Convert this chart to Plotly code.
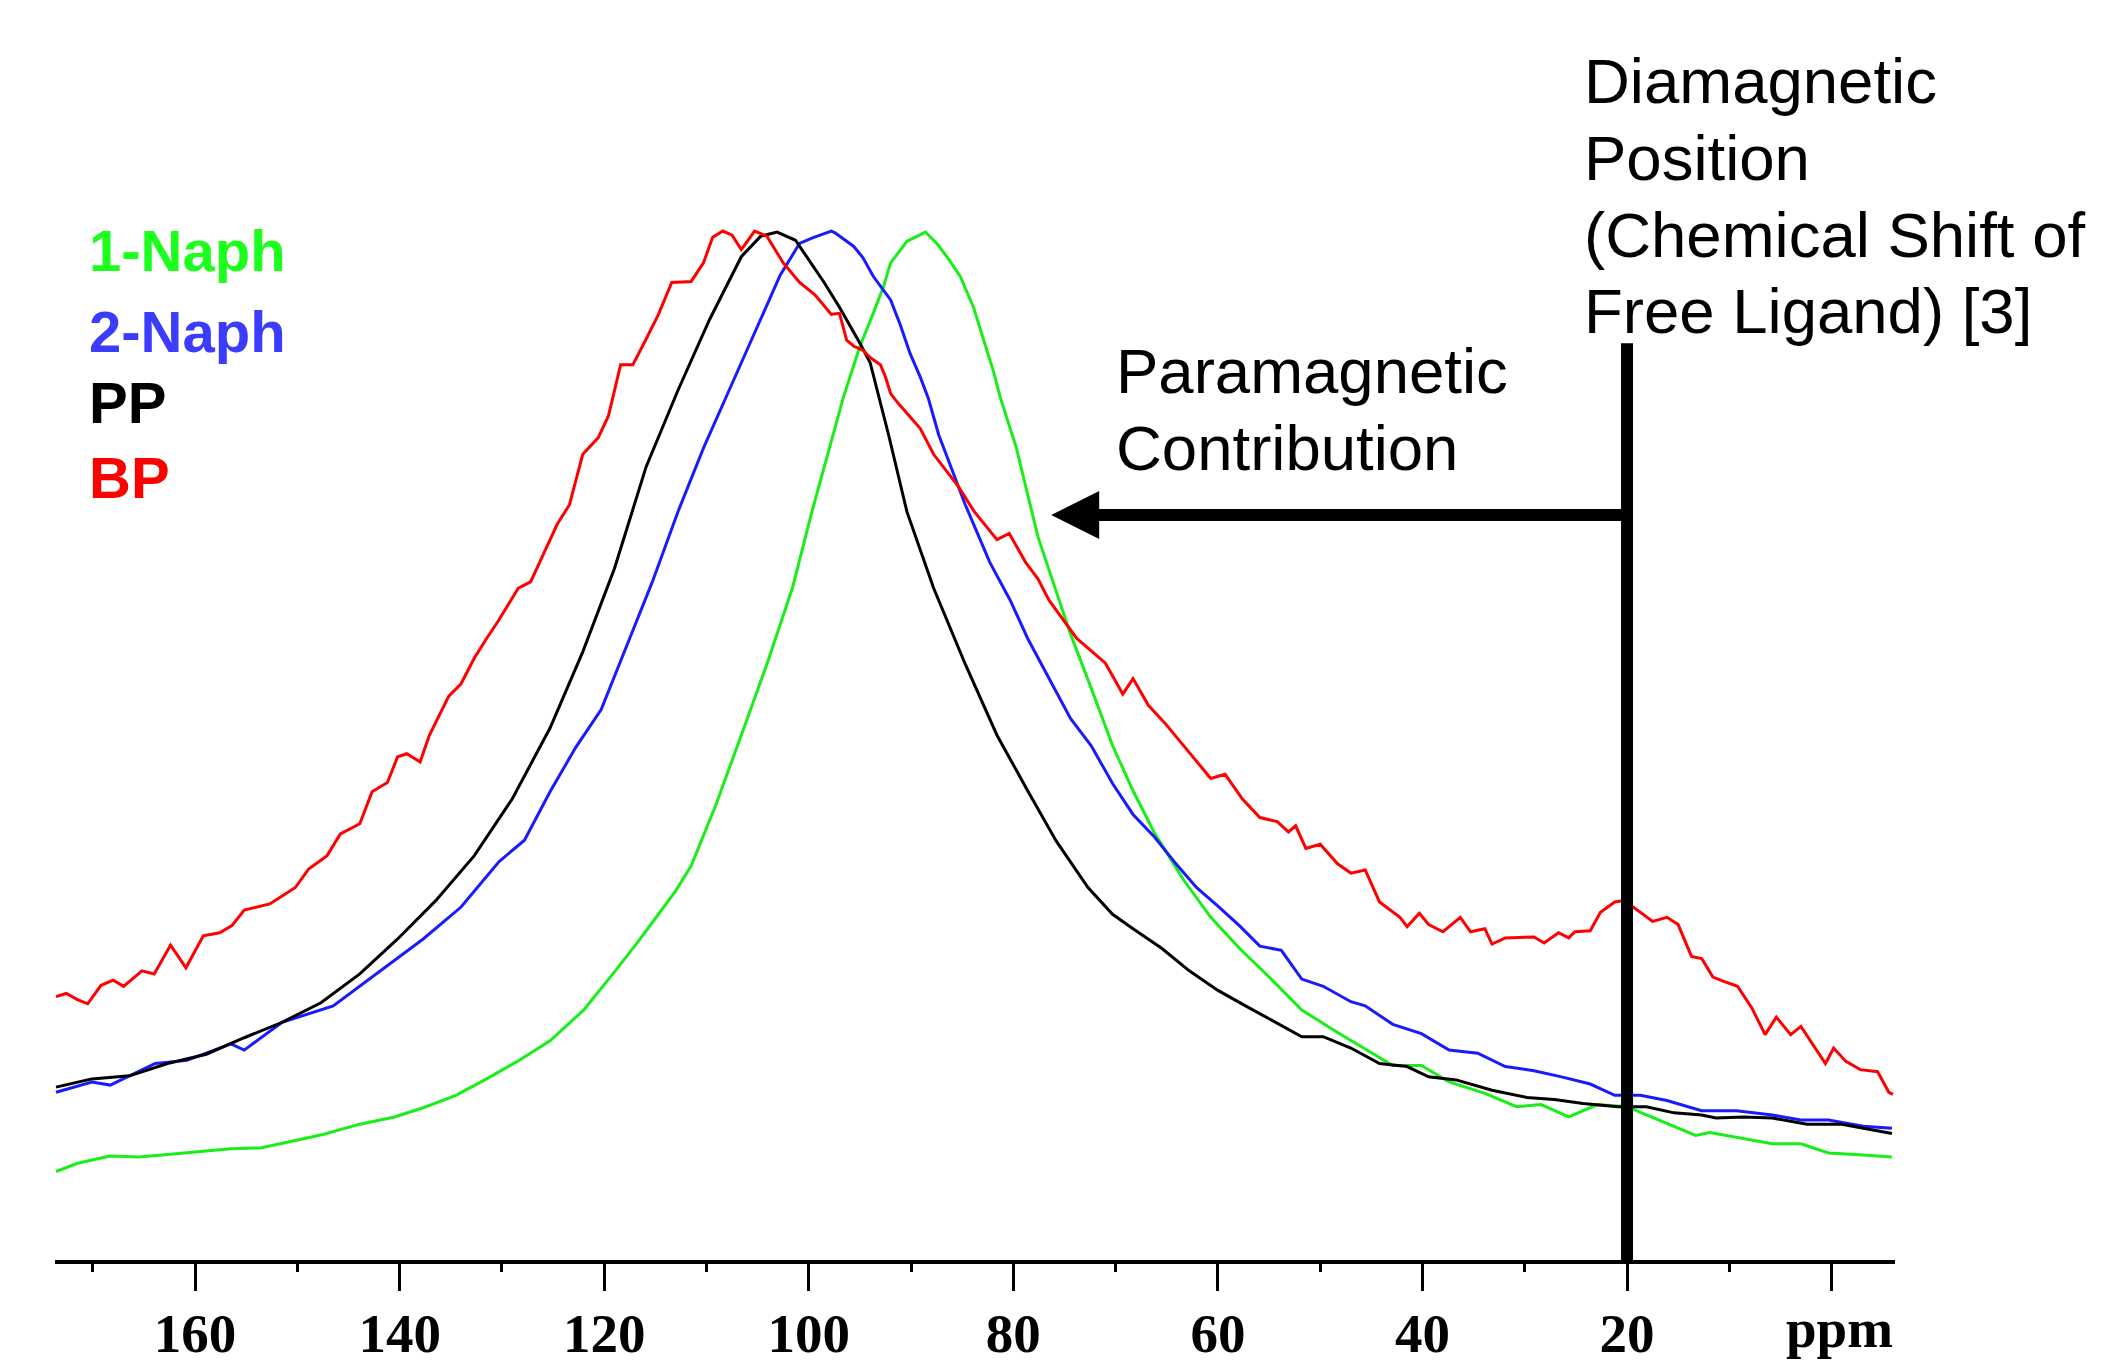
import plotly.graph_objects as go

# ---------------- data ----------------
naph1_ppm = [173.6, 171.5, 168.3, 165.5, 162.7, 159.5, 156.5, 153.5, 151.1, 147.5, 143.9, 140.5,
             137.7, 134.5, 131.5, 128.5, 125.3, 122.0, 119.0, 116.8, 114.7, 113.0, 111.5, 109.1,
             106.6, 104.1, 101.6, 99.7, 96.6, 95.0, 93.7, 92.7, 92.0, 90.4, 88.6, 87.5, 86.5, 85.2,
             83.9, 82.9, 81.9, 81.3, 79.7, 77.6, 75.5, 74.4, 72.4, 70.3, 68.3, 66.2, 63.4, 60.7,
             57.9, 55.2, 51.8, 48.3, 44.9, 42.9, 40.1, 37.4, 33.9, 30.8, 28.4, 25.7, 22.9, 20.0,
             18.1, 13.3, 11.9, 5.8, 3.0, 0.3, -3.1, -5.9]
naph1_int = [8.6, 9.4, 10.1, 10.0, 10.25, 10.5, 10.8, 10.9, 11.4, 12.2, 13.2, 13.9,
             14.8, 16.0, 17.6, 19.3, 21.3, 24.3, 28.0, 30.8, 33.6, 35.9, 38.3, 44.2,
             51.0, 57.9, 65.3, 72.7, 83.9, 88.8, 92.0, 94.6, 96.9, 99.0, 99.9, 98.8, 97.5, 95.6,
             92.6, 89.4, 86.2, 83.9, 78.9, 70.3, 64.1, 60.8, 55.6, 50.0, 45.6, 41.5, 37.0, 33.3,
             30.3, 27.7, 24.3, 22.1, 20.1, 18.9, 18.9, 17.3, 16.2, 14.9, 15.1, 13.9, 15.1, 14.9,
             14.1, 12.1, 12.4, 11.3, 11.3, 10.4, 10.2, 10.0]

naph2_ppm = [173.6, 170.1, 168.3, 163.9, 160.8, 156.5, 155.2, 151.5, 146.5, 142.7, 137.7, 134.0,
             130.3, 127.8, 125.3, 122.8, 120.3, 117.8, 115.3, 112.8, 110.3, 107.8, 105.3, 102.8,
             100.9, 99.7, 97.8, 97.4, 95.6, 94.7, 93.7, 92.0, 91.1, 90.1, 89.1, 88.3, 87.3, 84.7,
             82.3, 80.3, 78.6, 76.8, 74.4, 72.4, 70.3, 68.3, 66.2, 64.1, 62.1, 60.0, 57.9, 55.9,
             53.8, 51.8, 49.7, 47.0, 45.6, 42.9, 40.1, 37.4, 34.6, 31.9, 29.1, 26.4, 23.6, 21.2,
             18.7, 16.1, 12.7, 9.3, 5.8, 3.0, 0.3, -3.1, -5.9]
naph2_int = [16.3, 17.3, 17.0, 19.1, 19.4, 21.0, 20.4, 23.1, 24.7, 27.5, 31.2, 34.3,
             38.7, 40.8, 45.5, 49.8, 53.5, 59.7, 65.9, 72.7, 78.9, 84.5, 90.1, 95.7,
             98.8, 99.3, 100.0, 99.8, 98.5, 97.4, 95.6, 93.3, 91.0, 88.1, 85.8, 83.7, 80.2, 73.4,
             67.8, 64.1, 60.4, 57.1, 52.6, 50.0, 46.3, 43.3, 41.1, 38.5, 36.2, 34.4, 32.5, 30.5,
             30.1, 27.3, 26.6, 25.1, 24.7, 22.9, 22.0, 20.4, 20.1, 18.8, 18.4, 17.8, 17.1, 16.0,
             16.0, 15.5, 14.5, 14.5, 14.1, 13.6, 13.6, 13.0, 12.8]

pp_ppm = [173.6, 170.1, 166.4, 162.7, 158.9, 155.2, 151.5, 147.7, 143.9, 140.2, 136.5, 132.7,
          129.0, 125.3, 122.1, 119.0, 115.9, 112.8, 109.7, 106.6, 104.7, 103.1, 101.3, 98.5,
          97.0, 95.0, 94.0, 93.1, 92.2, 90.4, 87.8, 84.7, 81.6, 78.6, 75.8, 72.7, 70.3, 68.3,
          65.5, 62.8, 60.0, 57.3, 54.5, 51.8, 49.7, 47.0, 44.2, 41.5, 39.4, 36.7, 33.2, 29.8,
          27.1, 24.3, 20.9, 18.1, 15.4, 12.7, 11.3, 8.6, 5.8, 2.4, -1.0, -3.1, -5.9]
pp_int = [16.8, 17.6, 17.9, 19.1, 20.0, 21.6, 23.1, 25.0, 27.8, 31.2, 34.9, 39.3,
          44.8, 51.7, 59.1, 67.2, 77.1, 84.5, 91.4, 97.5, 99.5, 99.9, 99.1, 95.0,
          92.6, 89.1, 87.2, 83.6, 80.2, 72.7, 65.3, 57.9, 51.0, 45.6, 40.7, 36.2, 33.6, 32.2,
          30.3, 28.1, 26.2, 24.7, 23.2, 21.7, 21.7, 20.6, 19.1, 18.8, 17.8, 17.5, 16.5, 15.8,
          15.6, 15.2, 14.9, 14.9, 14.3, 14.1, 13.8, 13.9, 13.8, 13.2, 13.2, 12.8, 12.3]

bp_ppm = [173.6, 172.6, 171.5, 170.5, 169.2, 168.0, 167.0, 165.2, 164.0, 162.4, 160.9, 159.2,
          157.6, 156.4, 155.2, 152.7, 150.2, 148.9, 147.1, 145.8, 143.9, 142.7, 141.2, 140.2,
          139.3, 138.0, 137.1, 135.2, 134.0, 132.7, 131.5, 130.3, 128.4, 127.2, 125.9, 124.6,
          123.4, 122.1, 120.6, 119.6, 118.4, 117.2, 115.9, 114.7, 113.4, 111.5, 110.3, 109.4,
          108.4, 107.5, 106.6, 105.3, 104.1, 102.5, 100.9, 99.4, 97.8, 97.0, 96.3, 95.6, 94.7,
          94.0, 93.0, 92.5, 92.0, 91.3, 89.1, 87.8, 85.4, 83.8, 81.6, 80.4, 78.8, 77.6, 76.5,
          73.8, 71.0, 69.3, 68.3, 66.8, 65.2, 62.8, 60.7, 59.3, 57.6, 55.9, 54.2, 53.1, 52.4,
          51.4, 50.0, 48.3, 47.0, 45.6, 44.2, 42.2, 41.5, 40.3, 39.4, 38.0, 36.3, 35.3, 33.9,
          33.2, 31.9, 29.1, 28.1, 26.7, 25.7, 25.1, 23.6, 22.6, 21.2, 20.5, 19.4, 17.5, 16.1,
          15.0, 13.7, 12.7, 11.6, 10.6, 9.2, 7.8, 6.5, 5.4, 4.0, 3.0, 0.6, -0.2, -1.4, -2.8,
          -4.5, -5.6, -6.0]
bp_int = [25.6, 25.9, 25.3, 24.9, 26.7, 27.2, 26.6, 28.1, 27.8, 30.6, 28.4, 31.5,
          31.8, 32.5, 34.0, 34.6, 36.2, 38.0, 39.3, 41.4, 42.4, 45.5, 46.4, 48.9,
          49.2, 48.4, 51.0, 54.8, 56.0, 58.5, 60.4, 62.2, 65.3, 65.9, 68.7, 71.5,
          73.4, 78.3, 79.9, 82.0, 87.0, 87.0, 89.5, 91.9, 95.0, 95.1, 96.9, 99.4,
          100.0, 99.6, 98.2, 100.0, 99.5, 96.9, 95.0, 93.8, 91.9, 92.0, 89.4, 88.8, 88.4,
          87.7, 87.0, 85.8, 84.2, 83.3, 80.8, 78.3, 75.2, 72.7, 70.0, 70.6, 67.8, 66.2, 64.1,
          60.4, 58.0, 55.0, 56.5, 53.9, 52.2, 49.3, 46.8, 47.2, 44.8, 43.0, 42.6, 41.6, 42.2,
          40.0, 40.4, 38.5, 37.6, 37.9, 34.8, 33.3, 32.4, 33.7, 32.6, 31.9, 33.3, 31.9, 32.2,
          30.7, 31.3, 31.4, 30.8, 31.8, 31.3, 31.9, 32.0, 33.8, 34.8, 34.9, 34.3, 32.9, 33.3,
          32.6, 29.5, 29.3, 27.5, 27.1, 26.6, 24.5, 21.9, 23.6, 21.9, 22.7, 19.1, 20.6, 19.3, 18.5,
          18.3, 16.3, 16.1]

series_names = ["1-Naph", "2-Naph", "PP", "BP"]
line_colors = ["#19ee19", "#1a1aff", "#000000", "#ff0000"]
label_colors = ["#1cff1c", "#3c3cff", "#000000", "#ff0000"]

tick_vals = [160, 140, 120, 100, 80, 60, 40, 20, 0]
tick_text = ["160", "140", "120", "100", "80", "60", "40", "20", ""]
minor_tick_vals = [170, 150, 130, 110, 90, 70, 50, 30, 10]
unit_label = "ppm"

diamagnetic_ppm = 20
diamagnetic_top = 89.1
arrow_tip_ppm = 76.3
arrow_level = 72.4

# ---------------- figure ----------------
W, H = 2101, 1366
L, R, T, B = 55, 206, 0, 106
PW, PH = W - L - R, H - T - B


def px(xp):
    return (xp - L) / PW


def py(yp):
    return (H - B - yp) / PH


fig = go.Figure()
for name, xs, ys, col in zip(series_names,
                             [naph1_ppm, naph2_ppm, pp_ppm, bp_ppm],
                             [naph1_int, naph2_int, pp_int, bp_int],
                             line_colors):
    fig.add_trace(go.Scatter(x=xs, y=ys, mode="lines", name=name,
                             line=dict(color=col, width=3), showlegend=False))

fig.add_shape(type="line", xref="x", yref="y", x0=diamagnetic_ppm, x1=diamagnetic_ppm,
              y0=0, y1=diamagnetic_top, line=dict(color="black", width=12))

fig.add_annotation(x=arrow_tip_ppm, y=arrow_level, ax=diamagnetic_ppm, ay=arrow_level,
                   xref="x", yref="y", axref="x", ayref="y", text="", showarrow=True,
                   arrowhead=2, arrowsize=0.8, arrowwidth=12, arrowcolor="black")

# legend-like labels
legend_baselines = [270.7, 351.7, 422.7, 497.7]
for name, col, bl in zip(series_names, label_colors, legend_baselines):
    fig.add_annotation(xref="paper", yref="paper", x=px(87), y=py(bl - 0.3465 * 58),
                       xanchor="left", yanchor="middle", showarrow=False, text=name,
                       font=dict(family="Liberation Sans, Arial", size=58, color=col,
                                 weight="bold"))

TXT = 63.5
dia_lines = ["Diamagnetic", "Position", "(Chemical Shift of", "Free Ligand) [3]"]
dia_baselines = [103.3, 180.0, 256.7, 333.3]
for t, bl in zip(dia_lines, dia_baselines):
    fig.add_annotation(xref="paper", yref="paper", x=px(1582), y=py(bl - 0.3465 * TXT),
                       xanchor="left", yanchor="middle", showarrow=False, text=t,
                       font=dict(family="Liberation Sans, Arial", size=TXT, color="black"))

para_lines = ["Paramagnetic", "Contribution"]
para_baselines = [393.3, 470.0]
for t, bl in zip(para_lines, para_baselines):
    fig.add_annotation(xref="paper", yref="paper", x=px(1114), y=py(bl - 0.3465 * TXT),
                       xanchor="left", yanchor="middle", showarrow=False, text=t,
                       font=dict(family="Liberation Sans, Arial", size=TXT, color="black"))

# unit label at the right end of the axis
fig.add_annotation(xref="paper", yref="paper", x=px(1895), y=py(1347 - 0.3375 * 55),
                   xanchor="right", yanchor="middle", showarrow=False, text=unit_label,
                   font=dict(family="Liberation Serif, Times New Roman", size=55,
                             color="black", weight="bold"))

fig.update_xaxes(range=[173.7, -6.2], showgrid=False, zeroline=False,
                 showline=True, linewidth=4, linecolor="black",
                 ticks="outside", ticklen=27, tickwidth=3, tickcolor="black",
                 tickmode="array", tickvals=tick_vals, ticktext=tick_text,
                 ticklabelstandoff=-5,
                 tickfont=dict(family="Liberation Serif, Times New Roman", size=55,
                               color="black", weight="bold"),
                 minor=dict(tickmode="array", tickvals=minor_tick_vals,
                            ticks="outside", ticklen=8, tickwidth=3, tickcolor="black"))
fig.update_yaxes(range=[0, 122.45], visible=False, showgrid=False, zeroline=False)

fig.update_layout(width=W, height=H, margin=dict(l=L, r=R, t=T, b=B, pad=0),
                  paper_bgcolor="white", plot_bgcolor="white")

fig.write_html("out.html", config={"displayModeBar": False},
               post_script="document.body.style.margin='0';")
